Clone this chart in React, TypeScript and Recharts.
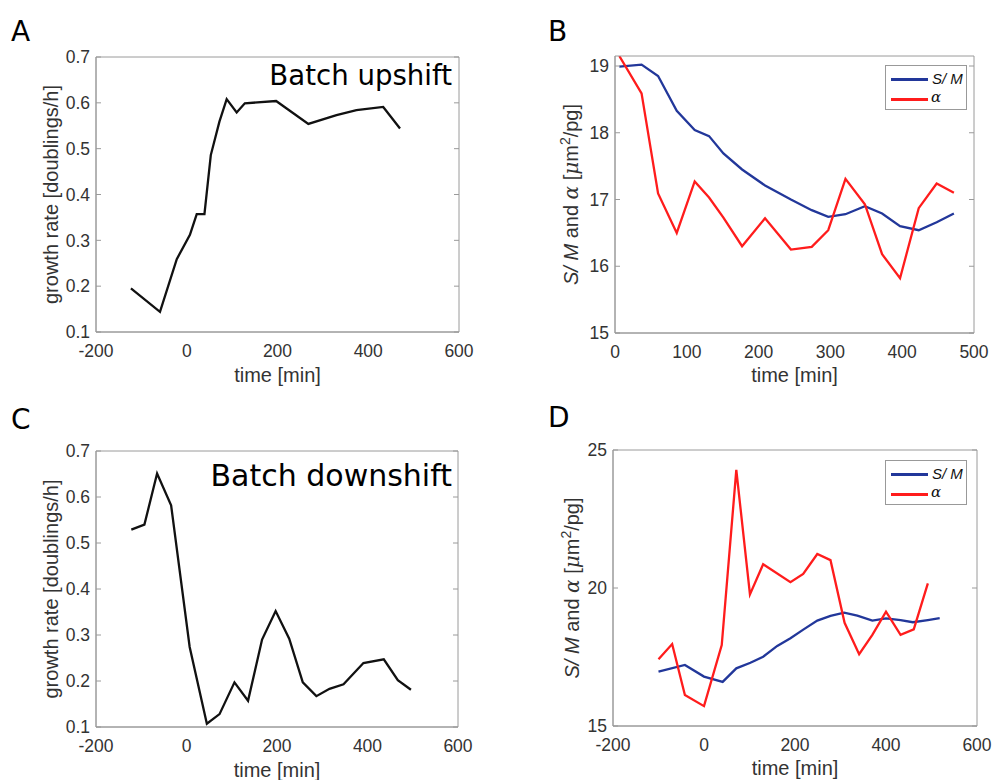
import React from "react";
import { LineChart, Line, XAxis, YAxis, Legend } from "recharts";

// panel A: batch upshift growth rate
const upTime = [-123, -59, -22, 7, 22, 39, 53, 72, 88, 110, 128, 197, 268, 330, 374, 433, 470];
const upRate = [0.195, 0.144, 0.259, 0.312, 0.357, 0.357, 0.486, 0.559, 0.608, 0.579, 0.599, 0.604, 0.554, 0.573, 0.584, 0.591, 0.544];

// panel B: S/M and alpha after upshift
const bTime = [6, 37, 60, 86, 111, 131, 151, 177, 209, 245, 274, 297, 321, 348, 372, 397, 423, 448, 472];
const bSM = [18.99, 19.02, 18.85, 18.33, 18.04, 17.95, 17.69, 17.45, 17.21, 17.0, 16.84, 16.74, 16.78, 16.9, 16.79, 16.6, 16.54, 16.66, 16.79];
const bAlpha = [19.15, 18.59, 17.09, 16.5, 17.27, 17.03, 16.73, 16.3, 16.72, 16.25, 16.29, 16.54, 17.31, 16.93, 16.18, 15.82, 16.87, 17.24, 17.1];

// panel C: batch downshift growth rate
const downTime = [-122, -93, -65, -34, 7, 45, 73, 106, 136, 167, 197, 227, 257, 287, 316, 347, 391, 436, 467, 496];
const downRate = [0.529, 0.54, 0.651, 0.582, 0.274, 0.107, 0.128, 0.197, 0.157, 0.29, 0.352, 0.292, 0.197, 0.167, 0.183, 0.193, 0.239, 0.247, 0.202, 0.181];

// panel D: S/M and alpha after downshift
const dSMTime = [-100, -42, 0, 41, 71, 102, 130, 161, 190, 219, 249, 278, 308, 337, 370, 400, 432, 459, 492, 518];
const dSM = [16.97, 17.21, 16.79, 16.6, 17.09, 17.29, 17.51, 17.9, 18.18, 18.5, 18.82, 18.99, 19.11, 19.0, 18.82, 18.9, 18.84, 18.76, 18.84, 18.91];
const dAlphaTime = [-100, -70, -42, 0, 39, 71, 101, 130, 190, 218, 249, 278, 309, 341, 370, 400, 432, 461, 492];
const dAlpha = [17.42, 17.97, 16.12, 15.72, 17.93, 24.28, 19.77, 20.86, 20.21, 20.51, 21.23, 21.01, 18.74, 17.6, 18.3, 19.14, 18.3, 18.5, 20.17];

// ticks
const timeTicks = [-200, 0, 200, 400, 600];
const bTimeTicks = [0, 100, 200, 300, 400, 500];
const rateTicks = [0.1, 0.2, 0.3, 0.4, 0.5, 0.6, 0.7];
const bYTicks = [15, 16, 17, 18, 19];
const dYTicks = [15, 20, 25];

const zip = (t: number[], v: number[]) => t.map((x, i) => ({ t: x, v: v[i] }));

const AX = "#9a9a9a";
const SANS = '"Liberation Sans", Arial, Helvetica, sans-serif';
const tickStyle = { fontFamily: SANS, fontSize: 17.5, fill: "#333" };
const labStyle = { fontFamily: SANS, fontSize: 20, fill: "#333" };
const BLUE = "#22379a";
const RED = "#ff1c1c";
const blank = () => "";

const smAlphaLabel = (
  <>
    <tspan fontStyle="italic">S/ M</tspan> and{" "}
    <tspan fontFamily="'DejaVu Serif', serif" fontStyle="italic">α</tspan> [
    <tspan fontFamily="'DejaVu Serif', serif" fontStyle="italic">μ</tspan>m
    <tspan dy={-8} fontSize={14}>2</tspan>
    <tspan dy={8}>/pg]</tspan>
  </>
);

// MATLAB style box: labelled bottom/left axes plus mirrored axes for inward ticks on all four sides
function frameAxes(
  xDomain: number[],
  xTicks: number[],
  yDomain: number[],
  yTicks: number[],
  yWidth: number,
  xHeight: number,
  xLabelY: number,
  yLabelX: number,
  yLabel: React.ReactNode
) {
  const common = {
    type: "number" as const,
    allowDataOverflow: true,
    stroke: AX,
    interval: 0 as const,
  };
  const inner = { ...common, mirror: true, tickSize: 5, tickFormatter: blank };
  return [
    <XAxis
      key="xb"
      xAxisId="b"
      dataKey="t"
      domain={xDomain}
      ticks={xTicks}
      height={xHeight}
      tickSize={0}
      tickLine={false}
      tickMargin={13}
      tick={tickStyle}
      {...common}
      label={(p: any) => {
        const vb = p.viewBox || {};
        return (
          <text x={vb.x + vb.width / 2} y={xLabelY} textAnchor="middle" style={labStyle}>
            time [min]
          </text>
        );
      }}
    />,
    <XAxis key="xbm" xAxisId="bm" domain={xDomain} ticks={xTicks} height={20} {...inner} />,
    <XAxis key="xt" xAxisId="t" orientation="top" domain={xDomain} ticks={xTicks} height={20} {...inner} />,
    <YAxis
      key="yl"
      yAxisId="l"
      domain={yDomain}
      ticks={yTicks}
      width={yWidth}
      tickSize={0}
      tickLine={false}
      tickMargin={6}
      tick={tickStyle}
      {...common}
      label={(p: any) => {
        const vb = p.viewBox || {};
        const cy = vb.y + vb.height / 2;
        return (
          <text
            x={yLabelX}
            y={cy}
            transform={`rotate(-90 ${yLabelX} ${cy})`}
            textAnchor="middle"
            style={labStyle}
          >
            {yLabel}
          </text>
        );
      }}
    />,
    <YAxis key="ylm" yAxisId="lm" domain={yDomain} ticks={yTicks} width={20} {...inner} />,
    <YAxis key="yr" yAxisId="r" orientation="right" domain={yDomain} ticks={yTicks} width={20} {...inner} />,
  ];
}

function LegendBox() {
  return (
    <div
      style={{
        boxSizing: "border-box",
        width: 82,
        height: 45,
        border: "1px solid #999",
        background: "#fff",
        position: "relative",
        fontFamily: SANS,
        fontSize: 15,
        color: "#111",
        whiteSpace: "nowrap",
      }}
    >
      <div style={{ position: "absolute", left: 5, top: 12, width: 37, height: 2.5, background: BLUE }} />
      <span style={{ position: "absolute", left: 46, top: 4, fontStyle: "italic" }}>S/ M</span>
      <div style={{ position: "absolute", left: 5, top: 32, width: 37, height: 2.5, background: RED }} />
      <span
        style={{ position: "absolute", left: 45, top: 22, fontStyle: "italic", fontFamily: "'DejaVu Serif', serif" }}
      >
        α
      </span>
    </div>
  );
}

const letterStyle: React.CSSProperties = {
  position: "absolute",
  fontFamily: "'DejaVu Sans', sans-serif",
  fontSize: 28,
  lineHeight: "28px",
  color: "#000",
};

const titleStyle: React.CSSProperties = {
  position: "absolute",
  fontFamily: "'DejaVu Sans', sans-serif",
  color: "#000",
  whiteSpace: "nowrap",
};

export default function App() {
  return (
    <div style={{ position: "absolute", left: 0, top: 0, width: 993, height: 780, background: "#fff", overflow: "hidden" }}>
      {/* A */}
      <div style={{ position: "absolute", left: 0, top: 0, width: 480, height: 390 }}>
        <LineChart width={480} height={390} margin={{ top: 57, right: 21, bottom: 0, left: 0 }}>
          {frameAxes([-200, 600], timeTicks, [0.1, 0.7], rateTicks, 96, 58, 382, 58, "growth rate [doublings/h]")}
          <Line
            xAxisId="b"
            yAxisId="l"
            data={zip(upTime, upRate)}
            dataKey="v"
            stroke="#111"
            strokeWidth={2.3}
            dot={false}
            isAnimationActive={false}
          />
        </LineChart>
        <div style={{ ...letterStyle, left: 11, top: 18 }}>A</div>
        <div style={{ ...titleStyle, right: 28, top: 62, fontSize: 27.6, lineHeight: "27.6px" }}>Batch upshift</div>
      </div>

      {/* B */}
      <div style={{ position: "absolute", left: 540, top: 0, width: 453, height: 390 }}>
        <LineChart width={453} height={390} margin={{ top: 56, right: 19, bottom: 0, left: 0 }}>
          {frameAxes([0, 500], bTimeTicks, [15, 19.15], bYTicks, 75, 57, 382, 38, smAlphaLabel)}
          <Line
            xAxisId="b"
            yAxisId="l"
            data={zip(bTime, bSM)}
            dataKey="v"
            stroke={BLUE}
            strokeWidth={2.3}
            dot={false}
            isAnimationActive={false}
          />
          <Line
            xAxisId="b"
            yAxisId="l"
            data={zip(bTime, bAlpha)}
            dataKey="v"
            stroke={RED}
            strokeWidth={2.3}
            dot={false}
            isAnimationActive={false}
          />
          <Legend
            layout="vertical"
            align="center"
            verticalAlign="middle"
            wrapperStyle={{ position: "absolute", left: 345, top: 65, width: 82, height: 45 }}
            content={() => <LegendBox />}
          />
        </LineChart>
        <div style={{ ...letterStyle, left: 8, top: 18 }}>B</div>
      </div>

      {/* C */}
      <div style={{ position: "absolute", left: 0, top: 390, width: 480, height: 390 }}>
        <LineChart width={480} height={390} margin={{ top: 61, right: 22, bottom: 0, left: 0 }}>
          {frameAxes([-200, 600], timeTicks, [0.1, 0.7], rateTicks, 96, 53, 387, 58, "growth rate [doublings/h]")}
          <Line
            xAxisId="b"
            yAxisId="l"
            data={zip(downTime, downRate)}
            dataKey="v"
            stroke="#111"
            strokeWidth={2.3}
            dot={false}
            isAnimationActive={false}
          />
        </LineChart>
        <div style={{ ...letterStyle, left: 11, top: 16 }}>C</div>
        <div style={{ ...titleStyle, right: 28, top: 71, fontSize: 30, lineHeight: "30px" }}>Batch downshift</div>
      </div>

      {/* D */}
      <div style={{ position: "absolute", left: 540, top: 390, width: 453, height: 390 }}>
        <LineChart width={453} height={390} margin={{ top: 60, right: 16, bottom: 0, left: 0 }}>
          {frameAxes([-200, 600], timeTicks, [15, 25], dYTicks, 73, 54, 385, 39, smAlphaLabel)}
          <Line
            xAxisId="b"
            yAxisId="l"
            data={zip(dSMTime, dSM)}
            dataKey="v"
            stroke={BLUE}
            strokeWidth={2.3}
            dot={false}
            isAnimationActive={false}
          />
          <Line
            xAxisId="b"
            yAxisId="l"
            data={zip(dAlphaTime, dAlpha)}
            dataKey="v"
            stroke={RED}
            strokeWidth={2.3}
            dot={false}
            isAnimationActive={false}
          />
          <Legend
            layout="vertical"
            align="center"
            verticalAlign="middle"
            wrapperStyle={{ position: "absolute", left: 345, top: 70, width: 82, height: 45 }}
            content={() => <LegendBox />}
          />
        </LineChart>
        <div style={{ ...letterStyle, left: 8, top: 14 }}>D</div>
      </div>
    </div>
  );
}
